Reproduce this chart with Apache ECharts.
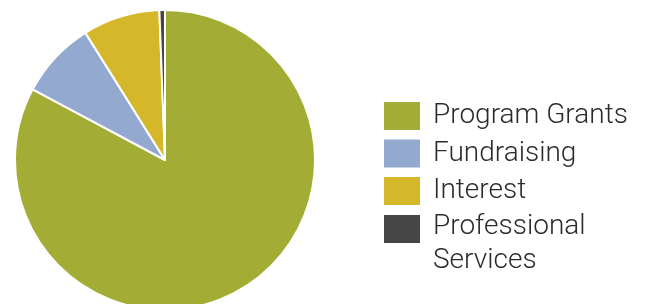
<!DOCTYPE html>
<html>
<head>
<meta charset="utf-8">
<script src="https://cdn.jsdelivr.net/npm/echarts@6/dist/echarts.min.js"></script>
<style>html,body{margin:0;padding:0;background:#fff;}#c{width:648px;height:304px;}</style>
</head>
<body>
<div id="c"></div>
<script>
const categories = ['Program Grants', 'Fundraising', 'Interest', 'Professional Services'];
const values = [82.8, 8.3, 8.3, 0.6];
const colors = ['#a3ad35', '#93a9cf', '#d5b829', '#464646'];

const FONT = { fontFamily: 'Roboto', fontWeight: 300, fontSize: 28, color: '#2b2b2b' };
const common = {
  orient: 'vertical',
  left: 384,
  padding: 0,
  height: 300,
  itemWidth: 36,
  itemHeight: 28,
  itemGap: 9.5,
  icon: 'rect',
  itemStyle: { borderWidth: 0 },
  textStyle: Object.assign({}, FONT, {
    rich: {
      t: Object.assign({}, FONT, { lineHeight: 28, padding: [0, 0, 0, 8] }),
      p: Object.assign({}, FONT, { lineHeight: 64, padding: [0, 0, 0, 8] }),
      s: Object.assign({}, FONT, { lineHeight: 4, padding: [0, 0, 0, 8] })
    }
  })
};

const chart = echarts.init(document.getElementById('c'));
chart.setOption({
  animation: false,
  legend: [
    Object.assign({}, common, {
      top: 102,
      data: categories.slice(0, 3),
      formatter: n => '{t|' + n + '}'
    }),
    Object.assign({}, common, {
      top: 213,
      data: categories.slice(3),
      formatter: n => {
        const parts = n.split(' ');
        return '{p|' + parts[0] + '}\n{s|' + parts.slice(1).join(' ') + '}';
      }
    })
  ],
  series: [{
    type: 'pie',
    center: [165, 160],
    radius: 150,
    startAngle: 90,
    clockwise: true,
    label: { show: false },
    labelLine: { show: false },
    itemStyle: { borderColor: '#fff', borderWidth: 2 },
    data: categories.map((n, i) => ({ name: n, value: values[i], itemStyle: { color: colors[i] } }))
  }]
});
</script>
</body>
</html>
